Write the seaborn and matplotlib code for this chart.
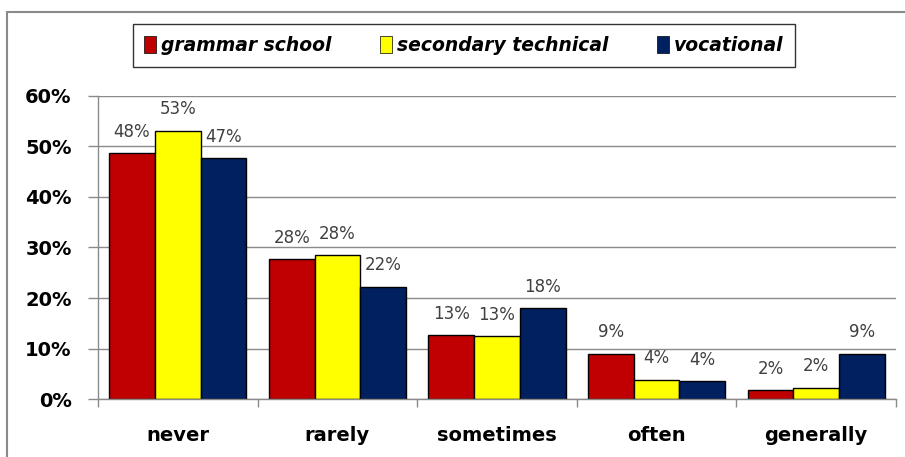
import pandas as pd
import matplotlib
matplotlib.use("Agg")
import matplotlib.pyplot as plt
import seaborn as sns
from matplotlib.patches import Patch, Rectangle
from matplotlib.ticker import PercentFormatter, FixedLocator

# data
categories = ["never", "rarely", "sometimes", "often", "generally"]
schools = ["grammar school", "secondary technical", "vocational"]
grammar = [0.486, 0.277, 0.127, 0.090, 0.018]
technical = [0.531, 0.285, 0.125, 0.039, 0.023]
vocational = [0.476, 0.222, 0.180, 0.036, 0.090]
label_text = [
    ["48%", "28%", "13%", "9%", "2%"],
    ["53%", "28%", "13%", "4%", "2%"],
    ["47%", "22%", "18%", "4%", "9%"],
]
colors = ["#C00000", "#FFFF00", "#002060"]

rows = []
for school, vals in zip(schools, [grammar, technical, vocational]):
    for cat, v in zip(categories, vals):
        rows.append({"category": cat, "school": school, "value": v})
df = pd.DataFrame(rows)

sns.set_style("white")
plt.rcParams["font.family"] = ["DejaVu Sans"]

fig = plt.figure(figsize=(9.05, 4.57), dpi=100)
ax = fig.add_axes([98 / 905, 1 - 399.3 / 457, 798 / 905, (399.3 - 95.7) / 457])

sns.barplot(data=df, x="category", y="value", hue="school", order=categories,
            hue_order=schools, palette=colors, saturation=1, edgecolor="black",
            linewidth=1, width=0.86, gap=0, ax=ax, legend=False)

for cont, labs in zip(ax.containers, label_text):
    ax.bar_label(cont, labels=labs, padding=9, fontsize=12, color="#404040")

grey = "#8a8a8a"
ax.set_ylim(0, 0.6)
ax.set_xlim(-0.5, 4.5)
ax.set_yticks([0, 0.1, 0.2, 0.3, 0.4, 0.5, 0.6])
ax.yaxis.set_major_formatter(PercentFormatter(1.0, decimals=0))
ax.yaxis.grid(True, color=grey, linewidth=1)
ax.set_axisbelow(True)
ax.tick_params(axis="y", left=True, length=7, color=grey, width=1, pad=12,
               labelsize=14, labelcolor="black")
for t in ax.get_yticklabels():
    t.set_fontweight("bold")
ax.tick_params(axis="x", which="major", bottom=True, length=0, pad=19,
               labelsize=14, labelcolor="black")
for t in ax.get_xticklabels():
    t.set_fontweight("bold")
ax.xaxis.set_minor_locator(FixedLocator([-0.5, 0.5, 1.5, 2.5, 3.5, 4.5]))
ax.tick_params(axis="x", which="minor", bottom=True, length=6, color=grey, width=1)
ax.set_xlabel("")
ax.set_ylabel("")
for s in ["top", "right"]:
    ax.spines[s].set_visible(False)
for s in ["left", "bottom"]:
    ax.spines[s].set_color(grey)
    ax.spines[s].set_linewidth(1)

handles = [Patch(facecolor=c, edgecolor="black", linewidth=0.5) for c in colors]
leg = fig.legend(handles, schools, loc="center", bbox_to_anchor=(464 / 905, 1 - 45.5 / 457),
                 ncol=3, frameon=True, fancybox=False, edgecolor="black",
                 prop={"style": "italic", "weight": "bold", "size": 13.5},
                 handlelength=0.6, handleheight=1.0, handletextpad=0.3,
                 columnspacing=2.6, borderpad=0.62, borderaxespad=0)
leg.get_frame().set_linewidth(1)
for t in leg.get_texts():
    t.set_color("black")

# outer chart border (only top/left visible)
fig.patches.append(Rectangle((7 / 905, -0.5), 2, 1.5 - 12 / 457, transform=fig.transFigure,
                             fill=False, edgecolor=grey, linewidth=1.5))

fig.savefig("out.png", dpi=100)
